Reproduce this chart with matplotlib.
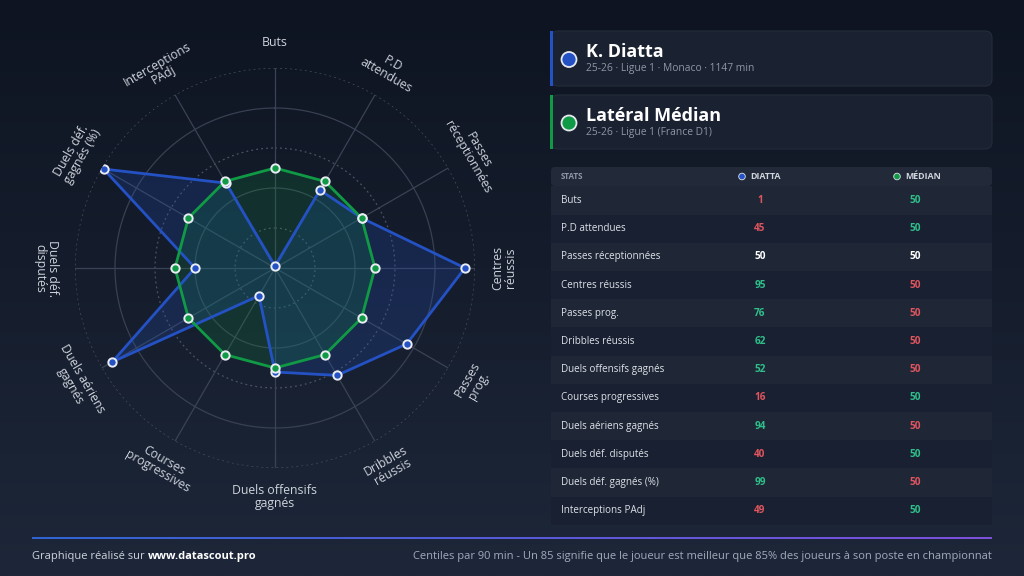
import numpy as np
import matplotlib
matplotlib.use("Agg")
import matplotlib.pyplot as plt
from matplotlib.patches import FancyBboxPatch, Rectangle, Circle

plt.rcParams['font.family'] = ['Open Sans', 'DejaVu Sans']

# data
stats = ["Buts", "P.D attendues", "Passes réceptionnées", "Centres réussis",
         "Passes prog.", "Dribbles réussis", "Duels offensifs gagnés",
         "Courses progressives", "Duels aériens gagnés", "Duels déf. disputés",
         "Duels déf. gagnés (%)", "Interceptions PAdj"]
radar_labels = ["Buts", "P.D\nattendues", "Passes\nréceptionnées", "Centres\nréussis",
                "Passes\nprog.", "Dribbles\nréussis", "Duels offensifs\ngagnés",
                "Courses\nprogressives", "Duels aériens\ngagnés", "Duels déf.\ndisputés",
                "Duels déf.\ngagnés (%)", "Interceptions\nPAdj"]
diatta = [1, 45, 50, 95, 76, 62, 52, 16, 94, 40, 99, 49]
median = [50] * 12

player_name = "K. Diatta"
player_sub = "25-26 · Ligue 1 · Monaco · 1147 min"
ref_name = "Latéral Médian"
ref_sub = "25-26 · Ligue 1 (France D1)"
footer_left = "Graphique réalisé sur "
footer_link = "www.datascout.pro"
footer_right = ("Centiles par 90 min - Un 85 signifie que le joueur est meilleur "
                "que 85% des joueurs à son poste en championnat")

BLUE = "#2452c4"
GREEN = "#109a45"
UP = "#2fc08a"
DOWN = "#e0555f"
GREY = "#8e97a6"

W, H = 1024, 576
fig = plt.figure(figsize=(W / 100, H / 100), dpi=100)

# background gradient
bg = fig.add_axes([0, 0, 1, 1])
bg.set_xlim(0, W)
bg.set_ylim(H, 0)
bg.axis("off")
grad = np.linspace(0, 1, 256).reshape(-1, 1)
top = np.array([14, 20, 33]) / 255
bot = np.array([29, 39, 57]) / 255
img = top + (bot - top) * grad[..., None]
bg.imshow(img, extent=[0, W, H, 0], aspect="auto", zorder=0)

# player cards
def card(y0, y1, accent, name, sub):
    bg.add_patch(FancyBboxPatch((551, y0), 441, y1 - y0,
                                boxstyle="round,pad=0,rounding_size=7",
                                fc="#1a2130", ec="#242c3b", lw=0.8, zorder=1))
    bg.add_patch(Rectangle((550, y0), 3, y1 - y0, fc=accent, ec="none", zorder=2))
    bg.add_patch(Circle((569, (y0 + y1) / 2 + 1), 7.5, fc=accent, ec="#e6e9ef",
                        lw=1.3, zorder=3))
    bg.text(586, y0 + 21, name, color="white", fontsize=13, fontweight="bold",
            va="center", ha="left", zorder=3)
    bg.text(586, y0 + 37, sub, color=GREY, fontsize=7.4, va="center", ha="left",
            zorder=3)

card(31, 86, BLUE, player_name, player_sub)
card(95, 149, GREEN, ref_name, ref_sub)

# table
row0, pitch = 200.5, 28.2
col_lab, col_d, col_m = 561, 760, 915
bg.add_patch(FancyBboxPatch((551, 167), 441, 19, boxstyle="round,pad=0,rounding_size=4",
                            fc="#222a3a", ec="none", zorder=1))
bg.text(col_lab, 176.5, "STATS", color=GREY, fontsize=5.8, fontweight="bold",
        va="center", ha="left")
bg.add_patch(Circle((col_d - 18, 176.5), 3.3, fc=BLUE, ec="#dfe3ea", lw=0.6, zorder=3))
bg.text(col_d - 10, 176.5, "DIATTA", color="#cfd4dc", fontsize=6.4, fontweight="bold",
        va="center", ha="left")
bg.add_patch(Circle((col_m - 18, 176.5), 3.3, fc=GREEN, ec="#dfe3ea", lw=0.6, zorder=3))
bg.text(col_m - 10, 176.5, "MÉDIAN", color="#cfd4dc", fontsize=6.4, fontweight="bold",
        va="center", ha="left")

for i, (s, d, m) in enumerate(zip(stats, diatta, median)):
    y = row0 + i * pitch
    fc = "#1f2736" if i % 2 == 0 else "#182031"
    bg.add_patch(Rectangle((551, y - pitch / 2), 441, pitch, fc=fc, ec="none", zorder=1))
    if d > m:
        cd, cm = UP, DOWN
    elif d < m:
        cd, cm = DOWN, UP
    else:
        cd = cm = "white"
    bg.text(col_lab, y, s, color="#dde1e8", fontsize=7.1, va="center", ha="left", zorder=2)
    bg.text(col_d, y, str(d), color=cd, fontsize=7.2, fontweight="bold", va="center",
            ha="center", zorder=2)
    bg.text(col_m, y, str(m), color=cm, fontsize=7.2, fontweight="bold", va="center",
            ha="center", zorder=2)

# footer
gx = np.linspace(0, 1, 300).reshape(1, -1)
c1 = np.array([48, 100, 210]) / 255
c2 = np.array([125, 80, 220]) / 255
line_img = c1 + (c2 - c1) * gx[..., None]
bg.imshow(line_img, extent=[32, 992, 539.5, 537.5], aspect="auto", zorder=2)
t = bg.text(32, 556, footer_left, color="#cfd4dc", fontsize=8, va="center", ha="left")
bg.annotate(footer_link, xy=(1, 0.5), xycoords=t, xytext=(0, 0),
            textcoords="offset points", color="white", fontsize=8,
            fontweight="bold", va="center", ha="left")
bg.text(992, 556, footer_right, color="#a3abb9", fontsize=8, va="center", ha="right")

# radar
cx, cy, R = 275, 268, 200
ax = fig.add_axes([(cx - R) / W, (H - cy - R) / H, 2 * R / W, 2 * R / H],
                  projection="polar")
ax.set_facecolor("none")
ax.set_theta_zero_location("N")
ax.set_theta_direction(-1)
ax.set_ylim(0, 100)
ax.grid(False)
ax.set_xticks([])
ax.set_yticks([])
ax.spines["polar"].set_visible(False)

n = len(stats)
theta = np.linspace(0, 2 * np.pi, n, endpoint=False)
circ = np.linspace(0, 2 * np.pi, 361)
for r in [20, 40, 60, 80, 100]:
    if r in (40, 80):
        ax.plot(circ, [r] * len(circ), color="#384152", lw=0.9, zorder=1)
    else:
        ax.plot(circ, [r] * len(circ), color="#4a5366", lw=0.9, ls=(0, (1.5, 2.5)), zorder=1)
for t_ in theta:
    ax.plot([t_, t_], [0, 100], color="#3a4355", lw=0.9, zorder=1)

tc = np.append(theta, theta[0])
dc = np.append(diatta, diatta[0])
mc = np.append(median, median[0])
ax.fill(tc, dc, color=BLUE, alpha=0.22, zorder=2, lw=0)
ax.fill(tc, mc, color=GREEN, alpha=0.18, zorder=2, lw=0)
ax.plot(tc, dc, color=BLUE, lw=2, zorder=3)
ax.plot(tc, mc, color=GREEN, lw=2, zorder=3)
ax.plot(theta, diatta, "o", ms=6, mfc=BLUE, mec="#e9ecf2", mew=1.4, zorder=4)
ax.plot(theta, median, "o", ms=6, mfc=GREEN, mec="#e9ecf2", mew=1.4, zorder=5)

for t_, lab in zip(theta, radar_labels):
    deg = np.degrees(t_)
    if 90 <= deg <= 270:
        rot = 180 - deg
    else:
        rot = -deg
    rr = 112.5 if "\n" not in lab else 114.5
    ax.text(t_, rr, lab, rotation=rot, rotation_mode="anchor", ha="center",
            va="center", color="#ced3dc", fontsize=8.8, linespacing=1.0,
            clip_on=False, zorder=6)

fig.savefig("out.png", dpi=100, facecolor=fig.get_facecolor())
